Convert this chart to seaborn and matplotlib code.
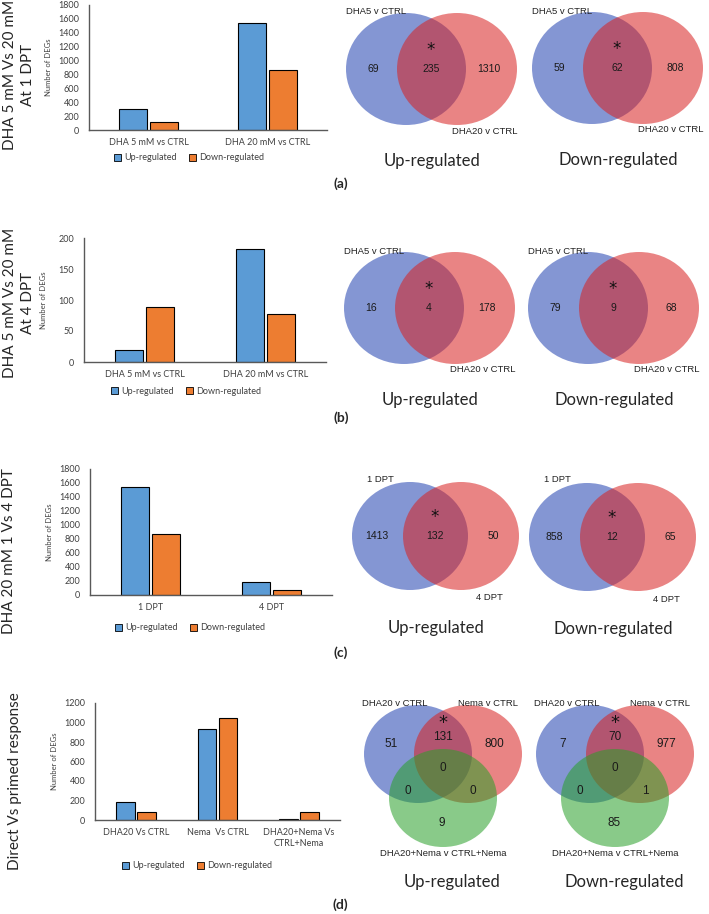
import matplotlib
matplotlib.use("Agg")
import matplotlib.pyplot as plt
from matplotlib.patches import Ellipse, Patch
import seaborn as sns
import pandas as pd

W, H = 709, 914
BLUE = "#5B9BD5"
ORANGE = "#ED7D31"

# bar chart data
directions = ["Up-regulated", "Down-regulated"]
a_groups = ["DHA 5 mM vs CTRL", "DHA 20 mM vs CTRL"]
a_up = [304, 1545]
a_down = [121, 870]
b_groups = ["DHA 5 mM vs CTRL", "DHA 20 mM vs CTRL"]
b_up = [20, 182]
b_down = [88, 77]
c_groups = ["1 DPT", "4 DPT"]
c_up = [1545, 182]
c_down = [870, 77]
d_groups = ["DHA20 Vs CTRL", "Nema  Vs CTRL", "DHA20+Nema Vs\nCTRL+Nema"]
d_up = [182, 931, 9]
d_down = [77, 1048, 86]

# venn data: [only first, shared, only second]
a_sets = ["DHA5 v CTRL", "DHA20 v CTRL"]
a_venn_up = [69, 235, 1310]
a_venn_down = [59, 62, 808]
b_sets = ["DHA5 v CTRL", "DHA20 v CTRL"]
b_venn_up = [16, 4, 178]
b_venn_down = [79, 9, 68]
c_sets = ["1 DPT", "4 DPT"]
c_venn_up = [1413, 132, 50]
c_venn_down = [858, 12, 65]
# three sets: [A, AB, B, ABC, AC, BC, C]
d_sets = ["DHA20 v CTRL", "Nema v CTRL", "DHA20+Nema v CTRL+Nema"]
d_venn_up = [51, 131, 800, 0, 0, 0, 9]
d_venn_down = [7, 70, 977, 0, 0, 1, 85]

row_titles = ["DHA 5 mM Vs 20 mM\nAt 1 DPT", "DHA 5 mM Vs 20 mM\nAt 4 DPT",
              "DHA 20 mM 1 Vs 4 DPT", "Direct Vs primed response"]

sns.set_theme(style="white")
plt.rcParams["font.family"] = ["Lato", "DejaVu Sans"]

fig = plt.figure(figsize=(W / 100, H / 100), dpi=100)
bg = fig.add_axes([0, 0, 1, 1])
bg.set_xlim(0, W)
bg.set_ylim(H, 0)
bg.axis("off")

VFONT = ["Liberation Sans", "DejaVu Sans"]
STAR = r"$*$"


def bar_panel(groups, up, down, box, ymax, step, leg_xy):
    x0, y0, x1, y1 = box
    ax = fig.add_axes([x0 / W, 1 - y1 / H, (x1 - x0) / W, (y1 - y0) / H])
    df = pd.DataFrame({
        "comparison": groups * 2,
        "direction": [directions[0]] * len(groups) + [directions[1]] * len(groups),
        "n": up + down,
    })
    sns.barplot(data=df, x="comparison", y="n", hue="direction",
                palette=[BLUE, ORANGE], saturation=1, width=0.52, gap=0.12,
                edgecolor="black", linewidth=0.8, legend=False, ax=ax)
    ax.set_xlim(-0.5, len(groups) - 0.5)
    ax.set_ylim(0, ymax)
    ax.set_yticks(range(0, ymax + 1, step))
    ax.set_xlabel("")
    ax.set_ylabel("Number of DEGs", fontsize=5.5, color="#404040")
    ax.yaxis.set_label_coords(-37 / (x1 - x0), 0.5)
    ax.tick_params(axis="both", length=0, labelsize=6.5, colors="#404040")
    ax.tick_params(axis="y", pad=7)
    ax.tick_params(axis="x", pad=6)
    sns.despine(ax=ax)
    for s in ["left", "bottom"]:
        ax.spines[s].set_color("#595959")
        ax.spines[s].set_linewidth(1)
    ax.patch.set_alpha(0)
    handles = [Patch(facecolor=BLUE, edgecolor="black", linewidth=0.6),
               Patch(facecolor=ORANGE, edgecolor="black", linewidth=0.6)]
    fig.legend(handles, directions, loc="center", ncol=2, frameon=False,
               bbox_to_anchor=(leg_xy[0] / W, 1 - leg_xy[1] / H),
               fontsize=6.5, handlelength=0.8, handleheight=0.8,
               handletextpad=0.3, columnspacing=1.4, labelcolor="#404040")
    return ax


def venn2(cx, cy, counts, names, title, rx=60, ry=56):
    bg.add_patch(Ellipse((cx - 25, cy), 2 * rx, 2 * ry, color="#2040B0", alpha=0.55, lw=0))
    bg.add_patch(Ellipse((cx + 26, cy), 2 * rx, 2 * ry, color="#D82020", alpha=0.55, lw=0))
    for dx, v in zip([-58, 0, 58], counts):
        bg.text(cx + dx, cy, str(v), ha="center", va="center", fontsize=7.5,
                family=VFONT, color="#1a1a1a")
    bg.text(cx, cy - 21, STAR, ha="center", va="center", fontsize=12, color="#111111")
    bg.text(cx - 55, cy - 57, names[0], ha="center", va="center", fontsize=6.8,
            family=VFONT, color="#222222")
    bg.text(cx + 54, cy + 62, names[1], ha="center", va="center", fontsize=6.8,
            family=VFONT, color="#222222")
    bg.text(cx + 1, cy + 92, title, ha="center", va="center", fontsize=12)


def venn3(cx, cy, counts, names, title, rx=54, ry=49):
    bg.add_patch(Ellipse((cx - 25, cy), 2 * rx, 2 * ry, color="#2040B0", alpha=0.55, lw=0))
    bg.add_patch(Ellipse((cx + 25, cy), 2 * rx, 2 * ry, color="#D82020", alpha=0.55, lw=0))
    bg.add_patch(Ellipse((cx, cy + 44), 2 * rx, 2 * ry, color="#28A028", alpha=0.55, lw=0))
    spots = [(-52, -10), (0, -17), (51, -10), (0, 14), (-35, 37), (30, 37), (-1, 69)]
    for (dx, dy), v in zip(spots, counts):
        bg.text(cx + dx, cy + dy, str(v), ha="center", va="center", fontsize=8.5,
                family=VFONT, color="#1a1a1a")
    bg.text(cx, cy - 33, STAR, ha="center", va="center", fontsize=13, color="#111111")
    bg.text(cx - 48, cy - 51, names[0], ha="center", va="center", fontsize=6.8,
            family=VFONT, color="#222222")
    bg.text(cx + 45, cy - 51, names[1], ha="center", va="center", fontsize=6.8,
            family=VFONT, color="#222222")
    bg.text(cx, cy + 99, names[2], ha="center", va="center", fontsize=6.8,
            family=VFONT, color="#222222")
    bg.text(cx + 9, cy + 128, title, ha="center", va="center", fontsize=12)


# bar charts
bar_panel(a_groups, a_up, a_down, (89, 5, 327, 130), 1800, 200, (189, 158))
bar_panel(b_groups, b_up, b_down, (84, 238, 326, 362), 200, 50, (186, 391))
bar_panel(c_groups, c_up, c_down, (90, 469, 332, 595), 1800, 200, (190, 628))
bar_panel(d_groups, d_up, d_down, (95, 703, 340, 820), 1200, 200, (197, 866))

# venn diagrams
venn2(431, 69, a_venn_up, a_sets, "Up-regulated")
venn2(617, 68, a_venn_down, a_sets, "Down-regulated")
venn2(429, 308, b_venn_up, b_sets, "Up-regulated")
venn2(613, 308, b_venn_down, b_sets, "Down-regulated")
venn2(435, 536, c_venn_up, c_sets, "Up-regulated", rx=58, ry=54)
venn2(612, 537, c_venn_down, c_sets, "Down-regulated", rx=58, ry=54)
venn3(443, 754, d_venn_up, d_sets, "Up-regulated")
venn3(615, 754, d_venn_down, d_sets, "Down-regulated")

# row titles and panel letters
for (x, y), t in zip([(19, 75), (19, 303), (9, 551), (15, 781)], row_titles):
    bg.text(x, y, t, rotation=90, ha="center", va="center", fontsize=11,
            linespacing=1.45, multialignment="center")
for (x, y), t in zip([(341, 184), (341, 418), (341, 653), (340, 905)],
                     ["(a)", "(b)", "(c)", "(d)"]):
    bg.text(x, y, t, ha="center", va="center", fontsize=10, fontweight="bold")

fig.savefig("out.png", dpi=100)
